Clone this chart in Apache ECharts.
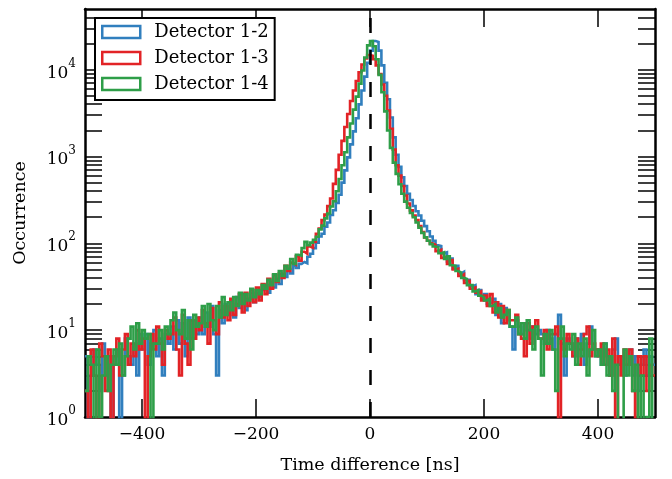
<!DOCTYPE html>
<html><head><meta charset="utf-8">
<script src="https://cdn.jsdelivr.net/npm/echarts@6/dist/echarts.min.js"></script>
<style>html,body{margin:0;padding:0;background:#fff}#c{width:672px;height:479px}</style>
</head><body><div id="c"></div>
<script>
// Histogram bins: 5 ns wide, from -500 ns to +500 ns
const binStart = -500;
const binWidth = 5;
const seriesNames = ['Detector 1-2', 'Detector 1-3', 'Detector 1-4'];
const seriesColors = ['#317fbe', '#e22326', '#2e9e48'];

const det12 = [
  5, 0, 3, 6, 4, 2, 7, 3, 5, 1,
  4, 6, 0, 3, 8, 5, 4, 7, 3, 9,
  6, 9, 4, 7, 10, 5, 8, 3, 9, 7,
  11, 6, 13, 7, 12, 5, 14, 8, 13, 9,
  14, 9, 16, 11, 19, 9, 3, 17, 12, 20,
  15, 22, 14, 24, 18, 26, 17, 23, 27, 21,
  27, 24, 29, 33, 27, 36, 31, 39, 34, 44,
  41, 50, 45, 55, 52, 58, 61, 59, 70, 76,
  88, 102, 120, 129, 155, 174, 212, 241, 291, 363,
  501, 692, 977, 1380, 1950, 2754, 3981, 5754, 8318, 12023,
  16596, 21380, 20900, 16596, 11220, 7079, 4571, 2818, 1660, 1047,
  759, 575, 457, 372, 316, 269, 234, 209, 182, 158,
  138, 120, 107, 95, 93, 77, 79, 62, 67, 51,
  55, 45, 47, 38, 38, 32, 33, 26, 29, 23,
  26, 20, 21, 23, 15, 20, 12, 18, 16, 11,
  6, 13, 11, 9, 12, 10, 8, 11, 9, 10,
  9, 7, 10, 8, 6, 9, 15, 7, 3, 8,
  7, 5, 8, 6, 9, 4, 7, 11, 6, 5,
  6, 4, 7, 5, 3, 6, 8, 4, 5, 3,
  4, 6, 3, 5, 2, 4, 6, 3, 5, 4
];
const det13 = [
  2, 0, 6, 3, 0, 7, 5, 2, 6, 0,
  5, 8, 3, 6, 9, 4, 7, 5, 10, 6,
  8, 0, 5, 9, 6, 11, 7, 4, 10, 8,
  9, 14, 6, 3, 15, 7, 4, 13, 8, 14,
  10, 17, 12, 7, 18, 13, 9, 21, 14, 19,
  13, 23, 15, 20, 26, 16, 27, 19, 29, 21,
  31, 22, 34, 26, 39, 30, 43, 36, 45, 40,
  55, 48, 60, 57, 71, 63, 80, 76, 92, 89,
  104, 129, 148, 185, 214, 268, 329, 484, 702, 1050,
  1514, 2188, 3090, 4365, 5754, 7413, 9333, 11482, 13490, 14791,
  14454, 13183, 11220, 8913, 6761, 5012, 3388, 2089, 1202, 794,
  603, 457, 355, 288, 240, 209, 186, 158, 135, 117,
  107, 100, 96, 81, 84, 68, 70, 58, 64, 50,
  51, 42, 44, 35, 37, 30, 31, 27, 28, 22,
  25, 19, 26, 16, 21, 14, 19, 12, 17, 13,
  13, 15, 9, 8, 5, 12, 7, 11, 13, 8,
  8, 10, 6, 9, 9, 11, 0, 8, 6, 9,
  7, 5, 8, 4, 6, 9, 11, 5, 7, 6,
  5, 7, 4, 6, 3, 8, 0, 5, 3, 6,
  4, 6, 2, 0, 5, 3, 5, 2, 4, 3
];
const det14 = [
  2, 5, 4, 0, 6, 1, 3, 5, 2, 4,
  6, 4, 7, 3, 5, 8, 11, 6, 12, 7,
  10, 8, 9, 0, 7, 7, 10, 6, 11, 9,
  13, 16, 10, 9, 17, 8, 13, 6, 15, 11,
  12, 19, 11, 20, 13, 10, 19, 14, 24, 15,
  21, 17, 24, 19, 27, 20, 26, 22, 30, 24,
  29, 26, 33, 30, 38, 33, 44, 37, 48, 42,
  55, 51, 66, 58, 74, 72, 88, 104, 95, 102,
  110, 119, 145, 160, 194, 221, 266, 305, 398, 550,
  794, 1122, 1660, 2399, 3467, 4898, 6918, 9772, 13804, 19055,
  21380, 18621, 13183, 8710, 5495, 3311, 1995, 1259, 851, 631,
  479, 372, 302, 257, 224, 200, 174, 151, 132, 117,
  107, 98, 92, 90, 77, 79, 66, 71, 56, 55,
  48, 46, 40, 39, 33, 33, 28, 29, 25, 24,
  22, 23, 19, 20, 16, 18, 14, 15, 17, 11,
  11, 14, 9, 12, 8, 13, 10, 6, 11, 8,
  3, 9, 7, 10, 6, 2, 8, 11, 5, 7,
  6, 9, 4, 7, 5, 8, 3, 6, 10, 5,
  6, 4, 7, 3, 5, 2, 4, 0, 0, 6,
  3, 5, 2, 4, 0, 3, 0, 1, 8, 0
];

const xTickValues = [-400, -200, 0, 200, 400];
const yLabelValues = [1, 10, 100, 1000, 10000];
const xMin = -500, xMax = 500, yMin = 1, yMax = 50000;
const markerX = 0;

// log-axis tick positions (decades + minor 2..9)
const yTickValues = [];
for (let d = 1; d <= 10000; d *= 10) {
  for (let m = 1; m <= 9; m++) { const v = m * d; if (v < yMax) yTickValues.push(v); }
}

const FONT = 'DejaVu Serif';

function toSteps(counts) {
  // zero counts are drawn below the visible log range (clipped), like matplotlib
  const pts = counts.map((c, i) => [binStart + i * binWidth, c > 0 ? c : 0.1]);
  const last = counts[counts.length - 1];
  pts.push([binStart + counts.length * binWidth, last > 0 ? last : 0.1]);
  return pts;
}

const allCounts = [det12, det13, det14];

const series = allCounts.map((arr, i) => ({
  name: seriesNames[i],
  type: 'line',
  step: 'end',
  data: toSteps(arr),
  showSymbol: false,
  symbol: 'none',
  clip: true,
  xAxisIndex: 0,
  yAxisIndex: 0,
  lineStyle: { color: seriesColors[i], width: 2.6, join: 'miter' },
  itemStyle: { color: seriesColors[i] },
  z: 2 + i
}));
series[2].markLine = {
  silent: true,
  symbol: 'none',
  label: { show: false },
  z: 10,
  lineStyle: { color: '#000', width: 2.5, type: [15, 17] },
  data: [{ xAxis: markerX }]
};

const minusFmt = v => (v < 0 ? '\u2212' + (-v) : String(v));

const xCommon = {
  type: 'value', min: xMin, max: xMax,
  splitLine: { show: false },
  axisLine: { show: true, onZero: false, lineStyle: { color: '#000', width: 2.5 } },
  axisTick: { show: true, inside: true, length: 18, customValues: xTickValues, lineStyle: { color: '#000', width: 1.5 } }
};
const yCommon = {
  type: 'log', logBase: 10, min: yMin, max: yMax,
  splitLine: { show: false },
  minorTick: { show: false },
  axisLine: { show: true, onZero: false, lineStyle: { color: '#000', width: 2.5 } },
  axisTick: { show: true, inside: true, length: 17, customValues: yTickValues, lineStyle: { color: '#000', width: 1.5 } }
};

const option = {
  backgroundColor: '#fff',
  animation: false,
  grid: { left: 85, right: 17, top: 9, bottom: 60, containLabel: false },
  legend: {
    left: 95, top: 18, orient: 'vertical',
    padding: [5, 6, 7, 6], itemGap: 8, itemWidth: 38, itemHeight: 12,
    backgroundColor: '#fff', borderColor: '#000', borderWidth: 2, borderRadius: 0,
    selectedMode: false,
    textStyle: { fontFamily: FONT, fontSize: 18, color: '#000', lineHeight: 18, padding: [0, 0, 0, 9] },
    data: seriesNames.map((n, i) => ({
      name: n, icon: 'rect',
      itemStyle: { color: '#fff', borderColor: seriesColors[i], borderWidth: 2.5 }
    }))
  },
  xAxis: [
    Object.assign({}, xCommon, {
      position: 'bottom',
      name: 'Time difference [ns]', nameLocation: 'middle', nameGap: 39,
      nameTextStyle: { fontFamily: FONT, fontSize: 17.5, color: '#000' },
      axisLabel: { show: true, customValues: xTickValues, formatter: minusFmt, margin: 9, fontFamily: FONT, fontSize: 17, color: '#000' }
    }),
    Object.assign({}, xCommon, { position: 'top', axisLabel: { show: false } })
  ],
  yAxis: [
    Object.assign({}, yCommon, {
      position: 'left',
      name: 'Occurrence', nameLocation: 'middle', nameGap: 56,
      nameTextStyle: { fontFamily: FONT, fontSize: 17.5, color: '#000' },
      axisLabel: {
        show: true, customValues: yLabelValues, margin: 9,
        formatter: v => '{b|10}{s|' + Math.round(Math.log10(v)) + '}',
        rich: {
          b: { fontFamily: FONT, fontSize: 17, color: '#000', verticalAlign: 'bottom', lineHeight: 24 },
          s: { fontFamily: FONT, fontSize: 12, color: '#000', verticalAlign: 'top', lineHeight: 12 }
        }
      }
    }),
    Object.assign({}, yCommon, { position: 'right', axisLabel: { show: false } })
  ],
  series: series
};

const chart = echarts.init(document.getElementById('c'), null, { renderer: 'canvas' });
chart.setOption(option);
</script>
</body></html>
